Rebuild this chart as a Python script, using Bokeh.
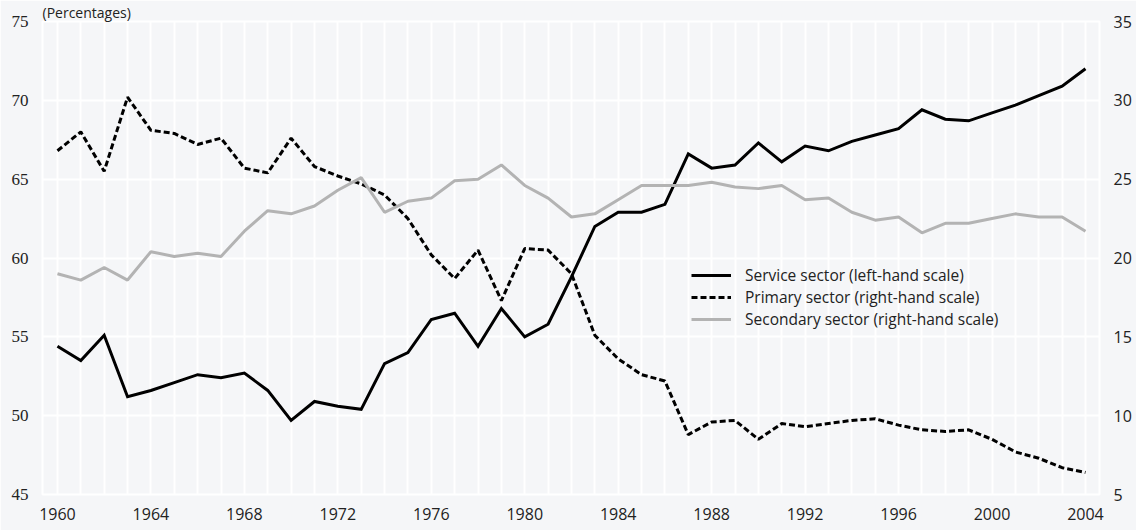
from bokeh.plotting import figure
from bokeh.models import Range1d, LinearAxis, FixedTicker, Legend, LegendItem
from bokeh.embed import file_html
from bokeh.resources import INLINE

years = list(range(1960, 2005))
service = [54.4, 53.5, 55.1, 51.2, 51.6, 52.1, 52.6, 52.4, 52.7, 51.6,
           49.7, 50.9, 50.6, 50.4, 53.3, 54.0, 56.1, 56.5, 54.4, 56.8,
           55.0, 55.8, 58.8, 62.0, 62.9, 62.9, 63.4, 66.6, 65.7, 65.9,
           67.3, 66.1, 67.1, 66.8, 67.4, 67.8, 68.2, 69.4, 68.8, 68.7,
           69.2, 69.7, 70.3, 70.9, 72.0]
primary = [26.8, 28.0, 25.5, 30.2, 28.1, 27.9, 27.2, 27.6, 25.7, 25.4,
           27.6, 25.8, 25.2, 24.7, 24.0, 22.5, 20.2, 18.7, 20.5, 17.3,
           20.6, 20.5, 19.0, 15.1, 13.6, 12.6, 12.2, 8.8, 9.6, 9.7,
           8.5, 9.5, 9.3, 9.5, 9.7, 9.8, 9.4, 9.1, 9.0, 9.1,
           8.5, 7.7, 7.3, 6.7, 6.4]
secondary = [19.0, 18.6, 19.4, 18.6, 20.4, 20.1, 20.3, 20.1, 21.7, 23.0,
             22.8, 23.3, 24.3, 25.1, 22.9, 23.6, 23.8, 24.9, 25.0, 25.9,
             24.6, 23.8, 22.6, 22.8, 23.7, 24.6, 24.6, 24.6, 24.8, 24.5,
             24.4, 24.6, 23.7, 23.8, 22.9, 22.4, 22.6, 21.6, 22.2, 22.2,
             22.5, 22.8, 22.6, 22.6, 21.7]
x_tick_years = [1960, 1964, 1968, 1972, 1976, 1980, 1984, 1988, 1992, 1996, 2000, 2004]
left_ticks = [45, 50, 55, 60, 65, 70, 75]
right_ticks = [5, 10, 15, 20, 25, 30, 35]
series_names = ["Service sector (left-hand scale)",
                "Primary sector (right-hand scale)",
                "Secondary sector (right-hand scale)"]
unit_label = "(Percentages)"

BG = "#f5f6f8"
SANS = "Open Sans"
SERIF = "Liberation Serif"
TXT = "#222222"

p = figure(width=1136, height=530, output_backend="svg", toolbar_location=None,
           x_range=Range1d(1959.36, 2004.6), y_range=Range1d(left_ticks[0], left_ticks[-1]),
           min_border_left=42, min_border_right=37, min_border_top=20, min_border_bottom=36,
           background_fill_color=BG, border_fill_color=BG,
           outline_line_color="white", outline_line_width=2)
p.extra_y_ranges = {"right": Range1d(right_ticks[0], right_ticks[-1])}

p.title.text = unit_label
p.title.align = "left"
p.title.text_font = SANS
p.title.text_font_size = "14px"
p.title.text_font_style = "normal"
p.title.text_color = TXT
p.title.standoff = 0
p.title.offset = 0

# axes
p.xaxis.ticker = FixedTicker(ticks=x_tick_years)
p.yaxis.ticker = FixedTicker(ticks=left_ticks)
right_axis = LinearAxis(y_range_name="right", ticker=FixedTicker(ticks=right_ticks))
p.add_layout(right_axis, "right")

for ax in [p.xaxis[0], p.yaxis[0], right_axis]:
    ax.axis_line_color = None
    ax.major_tick_line_color = None
    ax.minor_tick_line_color = None
    ax.major_tick_in = 0
    ax.major_tick_out = 0
    ax.minor_tick_in = 0
    ax.minor_tick_out = 0
    ax.major_label_text_color = TXT
    ax.major_label_text_font_size = "16px"
    ax.major_label_text_font = SANS
p.yaxis[0].major_label_text_font = SERIF
p.yaxis[0].major_label_text_font_size = "17px"
p.yaxis[0].major_label_standoff = 14
right_axis.major_label_standoff = 14
p.xaxis[0].major_label_standoff = 13

# grids
p.xgrid.ticker = FixedTicker(ticks=years)
p.xgrid.grid_line_color = "white"
p.xgrid.grid_line_width = 2
p.ygrid.ticker = FixedTicker(ticks=left_ticks)
p.ygrid.grid_line_color = "white"
p.ygrid.grid_line_width = 2

# lines
r_service = p.line(years, service, line_color="black", line_width=3, line_join="miter")
r_primary = p.line(years, primary, line_color="black", line_width=3, line_dash="6 3",
                   y_range_name="right")
r_secondary = p.line(years, secondary, line_color="#b3b3b3", line_width=3,
                     y_range_name="right")

legend = Legend(items=[LegendItem(label=series_names[0], renderers=[r_service]),
                       LegendItem(label=series_names[1], renderers=[r_primary]),
                       LegendItem(label=series_names[2], renderers=[r_secondary])],
                location=(649, 164), background_fill_alpha=0, border_line_color=None,
                label_text_font=SANS, label_text_font_size="15.5px", label_text_color=TXT,
                glyph_width=40, glyph_height=20, label_height=20, spacing=-2,
                padding=0, margin=0, label_standoff=14)
p.add_layout(legend)

open("out.html", "w").write(file_html(p, INLINE))
